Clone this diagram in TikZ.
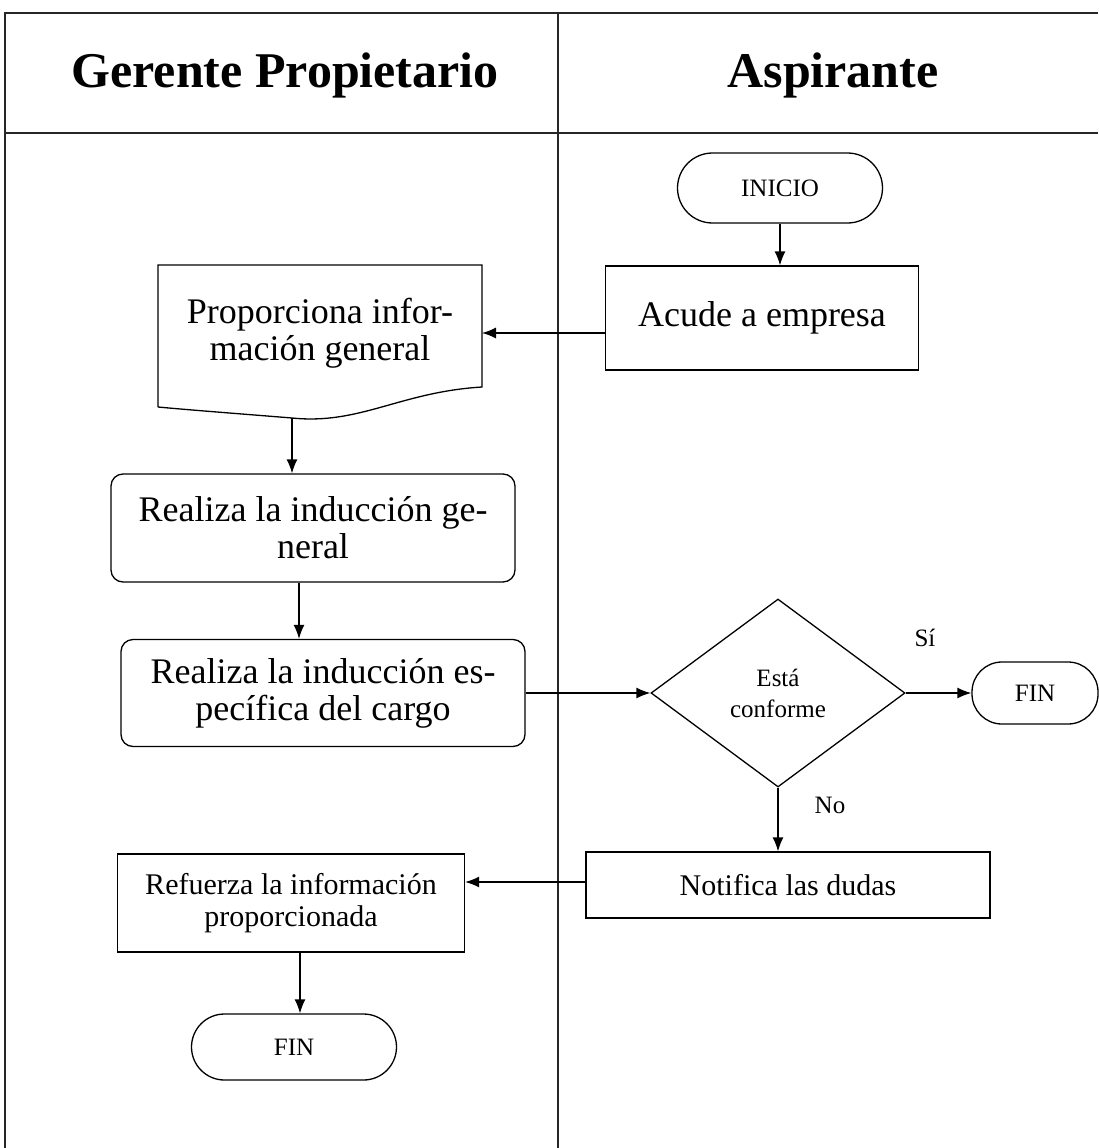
\documentclass[tikz,border=0pt]{standalone}
\usepackage{fontspec}
\setmainfont{Liberation Serif}
\usetikzlibrary{arrows.meta, positioning, shapes.geometric}

\tikzset{
  lane/.style={line width=1.8pt, draw=black!85},
  proc/.style={draw, line width=1.3pt, rectangle, align=center, inner sep=0pt},
  roundproc/.style={proc, rounded corners=12pt},
  term/.style={proc, rounded corners=#1},
  decision/.style={draw, diamond, line width=1.3pt, inner sep=0pt, align=center},
  flow/.style={line width=1.3pt, -{Latex[length=14pt,width=11pt]}},
  headtxt/.style={font=\fontsize{50}{56}\selectfont\bfseries},
  bigtxt/.style={font=\fontsize{36}{37}\selectfont},
  midtxt/.style={font=\fontsize{30}{32}\selectfont},
  smalltxt/.style={font=\fontsize{25}{31}\selectfont},
}

\begin{document}
\begin{tikzpicture}[x=1pt, y=-1pt]
  \useasboundingbox (0,0) rectangle (1098,1148);

  % swimlanes
  \draw[lane] (1098,13) -- (5,13) -- (5,1148);
  \draw[lane] (5,133) -- (1098,133);
  \draw[lane] (558,13) -- (558,1148);
  \node[headtxt] (gerente) at (285,75) {Gerente Propietario};
  \node[headtxt] (aspirante) at (833,75) {Aspirante};

  % aspirante lane
  \node[term=35pt, smalltxt, minimum width=205pt, minimum height=70pt] (inicio) at (780,188) {INICIO};
  \node[proc, bigtxt, minimum width=313pt, minimum height=104pt] (acude) at (762,318) {Acude a empresa};
  \node[decision, smalltxt, minimum width=254pt, minimum height=188pt] (conforme) at (778,693) {Está\\conforme};
  \node[term=30pt, smalltxt, minimum width=126pt, minimum height=62pt] (finA) at (1035,693) {FIN};
  \node[proc, midtxt, minimum width=404pt, minimum height=66pt] (notifica) at (788,885) {Notifica las dudas};
  \node[smalltxt] (si) at (925,638) {Sí};
  \node[smalltxt] (no) at (830,805) {No};

  % gerente lane
  \node[bigtxt, align=center, minimum width=324pt, minimum height=40pt, inner sep=0pt] (proporciona) at (320,333) {Proporciona infor-\\mación general};
  \draw[line width=1.3pt] (158,407) -- (158,265) -- (482,265) -- (482,387)
    .. controls (400,392) and (360,425) .. (292,418)
    .. controls (230,413) and (190,410) .. (158,407);
  \coordinate (propbot) at (292,418);
  \node[roundproc, bigtxt, minimum width=404pt, minimum height=108pt] (induccion) at (313,528) {Realiza la inducción ge-\\neral};
  \node[roundproc, bigtxt, minimum width=404pt, minimum height=107pt] (especifica) at (323,693) {Realiza la inducción es-\\pecífica del cargo};
  \node[proc, midtxt, minimum width=347pt, minimum height=98pt] (refuerza) at (291,903) {Refuerza la información\\proporcionada};
  \node[term=33pt, smalltxt, minimum width=205pt, minimum height=66pt] (finB) at (294,1047) {FIN};

  % connectors
  \draw[flow] (inicio.south) -- (inicio.south |- acude.north);
  \draw[flow] (acude.west |- proporciona) -- (482,333);
  \draw[flow] (propbot) -- (propbot |- induccion.north);
  \draw[flow] ([xshift=-14pt]induccion.south) -- ([xshift=-14pt]induccion.south |- especifica.north);
  \draw[flow] (especifica.east) -- (conforme.west);
  \draw[flow] (conforme.east) -- (finA.west);
  \draw[flow] (conforme.south) -- (conforme.south |- notifica.north);
  \draw[flow] ([yshift=3pt]notifica.west) -- ([yshift=3pt]notifica.west -| refuerza.east);
  \draw[flow] ([xshift=9pt]refuerza.south) -- ([xshift=9pt]refuerza.south |- finB.north);
\end{tikzpicture}
\end{document}
